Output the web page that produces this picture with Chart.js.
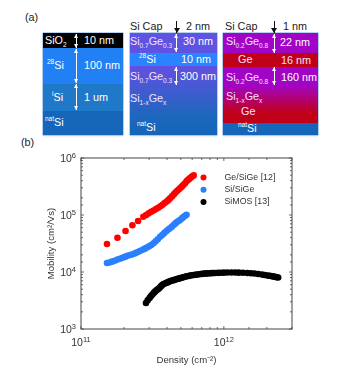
<!DOCTYPE html>
<html>
<head>
<meta charset="utf-8">
<script src="https://cdn.jsdelivr.net/npm/chart.js@4"></script>
<style>
  html, body { margin: 0; padding: 0; background: #fff; }
  body { width: 343px; height: 371px; position: relative; overflow: hidden; font-family: "Liberation Sans", sans-serif; color: #222; filter: blur(0.3px); }
  .stack { position: absolute; top: 33px; height: 102px; box-shadow: 0 0 0 0.5px #6ea2e0, 0 2px 2px #e6eefa; }
  .layer { position: absolute; left: 0; right: 0; }
  .t { position: absolute; white-space: nowrap; font-size: 10.8px; line-height: 12px; }
  .w { color: #fff; }
  .p { color: #f6e2fc; }
  sub, sup { font-size: 6.5px; line-height: 0; }
  .arrow { position: absolute; width: 1.5px; background: #fff; }
  .arrow::before, .arrow::after { content: ""; position: absolute; left: -2px; border-left: 2.75px solid transparent; border-right: 2.75px solid transparent; }
  .arrow::before { top: 0; border-bottom: 4px solid #fff; }
  .arrow::after { bottom: 0; border-top: 4px solid #fff; }
  .down { position: absolute; width: 1.2px; background: #111; }
  .down::after { content: ""; position: absolute; left: -2.4px; bottom: 0; border-left: 3px solid transparent; border-right: 3px solid transparent; border-top: 5px solid #111; }
  #chart-wrap { position: absolute; left: 0; top: 140px; width: 343px; height: 231px; }
</style>
</head>
<body>
<div class="t" style="left:25px;top:11px">(a)</div>
<div class="t" style="left:21px;top:136px">(b)</div>

<!-- first stack -->
<div class="stack" style="left:43px;width:80px">
  <div class="layer" style="top:0;height:15px;background:#000"></div>
  <div class="layer" style="top:15px;height:36px;background:#2280f5"></div>
  <div class="layer" style="top:51px;height:27px;background:#1f78c8"></div>
  <div class="layer" style="top:78px;height:24px;background:#1565b8"></div>
</div>
<div class="t w" style="left:45px;top:34px">SiO<sub>2</sub></div>
<div class="t w" style="left:84px;top:34px">10 nm</div>
<div class="t w" style="left:47px;top:59px"><sup>28</sup>Si</div>
<div class="t w" style="left:84px;top:59px">100 nm</div>
<div class="t w" style="left:52px;top:91px"><sup>i</sup>Si</div>
<div class="t w" style="left:84px;top:91px">1 um</div>
<div class="t w" style="left:45px;top:116px"><sup>nat</sup>Si</div>
<div class="arrow" style="left:75.5px;top:34px;height:14px"></div>
<div class="arrow" style="left:75.5px;top:49px;height:34px"></div>
<div class="arrow" style="left:75.5px;top:84px;height:26px"></div>

<!-- second stack -->
<div class="stack" style="left:130px;width:87px">
  <div class="layer" style="top:0;height:20px;background:#5f53e2"></div>
  <div class="layer" style="top:20px;height:13px;background:#2a84ff"></div>
  <div class="layer" style="top:33px;height:69px;background:linear-gradient(#6350e2,#1b68bc 75%,#1565b8)"></div>
</div>
<div class="t" style="left:130px;top:20px">Si Cap</div>
<div class="t" style="left:186px;top:20px">2 nm</div>
<div class="down" style="left:176px;top:21px;height:12px"></div>
<div class="t p" style="left:130px;top:35px">Si<sub>0.7</sub>Ge<sub>0.3</sub></div>
<div class="t w" style="left:183px;top:35px">30 nm</div>
<div class="t w" style="left:139px;top:53px"><sup>28</sup>Si</div>
<div class="t w" style="left:181px;top:53px">10 nm</div>
<div class="t p" style="left:130px;top:70px">Si<sub>0.7</sub>Ge<sub>0.3</sub></div>
<div class="t w" style="left:180px;top:70px">300 nm</div>
<div class="t p" style="left:130px;top:92px">Si<sub>1-x</sub>Ge<sub>x</sub></div>
<div class="t w" style="left:137px;top:121px"><sup>nat</sup>Si</div>
<div class="arrow" style="left:175.5px;top:34px;height:18px"></div>
<div class="arrow" style="left:175.5px;top:67px;height:18px"></div>

<!-- third stack -->
<div class="stack" style="left:223px;width:95px">
  <div class="layer" style="top:0;height:20px;background:#a204c6"></div>
  <div class="layer" style="top:20px;height:14px;background:#c00018"></div>
  <div class="layer" style="top:34px;height:46px;background:linear-gradient(#a204c6,#a204c6 40%,#c00018)"></div>
  <div class="layer" style="top:79px;height:11px;background:#c00018"></div>
  <div class="layer" style="top:90px;height:12px;background:#1565b8"></div>
</div>
<div class="t" style="left:225px;top:20px">Si Cap</div>
<div class="t" style="left:283px;top:20px">1 nm</div>
<div class="down" style="left:273.5px;top:21px;height:12px"></div>
<div class="t p" style="left:226px;top:35px">Si<sub>0.2</sub>Ge<sub>0.8</sub></div>
<div class="t w" style="left:280px;top:36px">22 nm</div>
<div class="t p" style="left:238px;top:53px">Ge</div>
<div class="t p" style="left:281px;top:54px">16 nm</div>
<div class="t p" style="left:226px;top:71px">Si<sub>0.2</sub>Ge<sub>0.8</sub></div>
<div class="t w" style="left:281px;top:71px">160 nm</div>
<div class="t p" style="left:226px;top:90px">Si<sub>1-x</sub>Ge<sub>x</sub></div>
<div class="t p" style="left:241px;top:105px">Ge</div>
<div class="t w" style="left:238px;top:122px"><sup>nat</sup>Si</div>
<div class="arrow" style="left:273.5px;top:34px;height:19px"></div>
<div class="arrow" style="left:273.5px;top:67px;height:18px"></div>

<div id="chart-wrap"><canvas id="mobility-chart" width="343" height="231"></canvas></div>

<script>
const geDensity = [1.52e11,1.80e11,2.05e11,2.29e11,2.51e11,2.73e11,2.86e11,2.98e11,3.10e11,3.22e11,3.35e11,3.47e11,3.60e11,3.72e11,3.85e11,3.98e11,4.10e11,4.22e11,4.35e11,4.48e11,4.60e11,4.72e11,4.85e11,4.98e11,5.10e11,5.22e11,5.35e11,5.48e11,5.60e11,5.72e11,5.85e11,5.98e11,6.15e11];
const geMobility = [3.1e4,4.0e4,5.24e4,6.6e4,7.85e4,9.3e4,1.0e5,1.07e5,1.14e5,1.2e5,1.27e5,1.34e5,1.42e5,1.51e5,1.62e5,1.73e5,1.84e5,1.98e5,2.14e5,2.32e5,2.5e5,2.66e5,2.82e5,3.0e5,3.18e5,3.38e5,3.6e5,3.9e5,4.1e5,4.3e5,4.5e5,4.72e5,4.95e5];

const siDensity = [1.52e11,1.58e11,1.65e11,1.72e11,1.80e11,1.87e11,1.95e11,2.03e11,2.11e11,2.21e11,2.30e11,2.40e11,2.50e11,2.60e11,2.72e11,2.80e11,2.89e11,3.0e11,3.1e11,3.22e11,3.33e11,3.45e11,3.58e11,3.7e11,3.82e11,3.95e11,4.08e11,4.2e11,4.33e11,4.47e11,4.6e11,4.72e11,4.85e11,4.96e11,5.1e11,5.22e11,5.35e11,5.48e11];
const siMobility = [1.44e4,1.47e4,1.52e4,1.58e4,1.65e4,1.71e4,1.77e4,1.84e4,1.92e4,1.99e4,2.05e4,2.14e4,2.24e4,2.35e4,2.47e4,2.57e4,2.68e4,2.82e4,2.97e4,3.2e4,3.45e4,3.75e4,4.15e4,4.45e4,4.8e4,5.2e4,5.55e4,5.85e4,6.25e4,6.75e4,7.2e4,7.6e4,7.95e4,8.27e4,8.8e4,9.25e4,9.7e4,1.01e5];

const mosDensity = [2.85e11,2.93e11,3.02e11,3.08e11,3.15e11,3.23e11,3.31e11,3.4e11,3.5e11,3.58e11,3.65e11,3.72e11,3.79e11,3.9e11,4.0e11,4.1e11,4.2e11,4.32e11,4.45e11,4.58e11,4.7e11,4.82e11,4.95e11,5.08e11,5.2e11,5.35e11,5.5e11,5.65e11,5.8e11,5.98e11,6.15e11,6.32e11,6.5e11,6.7e11,6.9e11,7.1e11,7.3e11,7.5e11,7.7e11,7.95e11,8.2e11,8.45e11,8.7e11,9.1e11,9.5e11,1.0e12,1.06e12,1.13e12,1.2e12,1.27e12,1.36e12,1.46e12,1.55e12,1.64e12,1.74e12,1.85e12,1.93e12,2.02e12,2.08e12,2.14e12,2.2e12,2.27e12,2.33e12,2.4e12];
const mosMobility = [2.86e3,3.2e3,3.5e3,3.75e3,4.0e3,4.3e3,4.57e3,4.85e3,5.1e3,5.4e3,5.7e3,5.95e3,6.16e3,6.35e3,6.5e3,6.7e3,6.9e3,7.05e3,7.2e3,7.35e3,7.5e3,7.65e3,7.8e3,7.95e3,8.1e3,8.25e3,8.4e3,8.52e3,8.65e3,8.75e3,8.86e3,8.95e3,9.05e3,9.12e3,9.2e3,9.28e3,9.35e3,9.4e3,9.45e3,9.5e3,9.55e3,9.6e3,9.62e3,9.66e3,9.7e3,9.75e3,9.78e3,9.8e3,9.8e3,9.75e3,9.7e3,9.6e3,9.5e3,9.4e3,9.2e3,9.0e3,8.85e3,8.7e3,8.6e3,8.5e3,8.38e3,8.25e3,8.12e3,8.0e3];

const seriesNames = ['Ge/SiGe [12]', 'Si/SiGe', 'SiMOS [13]'];
const seriesColors = ['#ff0000', '#2a7fff', '#000000'];
const xTickValues = [1e11, 1e12];
const yTickValues = [1e3, 1e4, 1e5, 1e6];

function toPoints(xs, ys) {
    return xs.map((x, i) => ({ x: x, y: ys[i] }));
}

function isDecade(value) {
    const e = Math.log10(value);
    return Math.abs(e - Math.round(e)) < 1e-6;
}

// frame plus inward ticks on all four sides, chart.js only draws them outward
const insideTicks = {
    id: 'insideTicks',
    afterDatasetsDraw(chart) {
        const { ctx, chartArea: a, scales } = chart;
        ctx.save();
        ctx.strokeStyle = '#444';
        ctx.lineWidth = 1;
        ctx.strokeRect(a.left, a.top, a.right - a.left, a.bottom - a.top);
        ctx.lineWidth = 0.8;
        ctx.beginPath();
        scales.x.ticks.forEach(t => {
            const px = scales.x.getPixelForValue(t.value);
            const len = isDecade(t.value) ? 3 : 2;
            ctx.moveTo(px, a.bottom); ctx.lineTo(px, a.bottom - len);
            ctx.moveTo(px, a.top); ctx.lineTo(px, a.top + len);
        });
        scales.y.ticks.forEach(t => {
            const py = scales.y.getPixelForValue(t.value);
            const len = isDecade(t.value) ? 3 : 2;
            ctx.moveTo(a.left, py); ctx.lineTo(a.left + len, py);
            ctx.moveTo(a.right, py); ctx.lineTo(a.right - len, py);
        });
        ctx.stroke();
        ctx.restore();
    }
};

// "10" with a raised exponent, the tick callback can't do two sizes
function drawPower(ctx, value, x, y, align) {
    const exp = String(Math.round(Math.log10(value)));
    ctx.font = '10.5px "Liberation Sans"';
    const baseW = ctx.measureText('10').width;
    ctx.font = '7.5px "Liberation Sans"';
    const expW = ctx.measureText(exp).width;
    const left = align === 'right' ? x - baseW - expW : x - (baseW + expW) / 2;
    ctx.font = '10.5px "Liberation Sans"';
    ctx.fillText('10', left, y);
    ctx.font = '7.5px "Liberation Sans"';
    ctx.fillText(exp, left + baseW, y - 4);
}

const powerLabels = {
    id: 'powerLabels',
    afterDraw(chart) {
        const { ctx, chartArea: a, scales } = chart;
        ctx.save();
        ctx.fillStyle = '#333';
        ctx.textBaseline = 'alphabetic';
        xTickValues.forEach(v => drawPower(ctx, v, scales.x.getPixelForValue(v), a.bottom + 17, 'center'));
        yTickValues.forEach(v => drawPower(ctx, v, a.left - 5, scales.y.getPixelForValue(v) + 4, 'right'));
        ctx.restore();
    }
};

// legend sits inside the plot, next to the end of the curves
const insideLegend = {
    id: 'insideLegend',
    afterDatasetsDraw(chart) {
        const { ctx, chartArea: a } = chart;
        ctx.save();
        ctx.font = '8.8px "Liberation Sans"';
        ctx.textBaseline = 'middle';
        seriesNames.forEach((name, i) => {
            const y = a.top + 19.5 + i * 12.2;
            ctx.fillStyle = seriesColors[i];
            ctx.beginPath();
            ctx.arc(a.left + 122.5, y, 3, 0, Math.PI * 2);
            ctx.fill();
            ctx.fillStyle = '#333';
            ctx.fillText(name, a.left + 143.5, y);
        });
        ctx.restore();
    }
};

const densitySets = [geDensity, siDensity, mosDensity];
const mobilitySets = [geMobility, siMobility, mosMobility];

new Chart(document.getElementById('mobility-chart'), {
    type: 'scatter',
    data: {
        datasets: seriesNames.map((name, i) => ({
            label: name,
            data: toPoints(densitySets[i], mobilitySets[i]),
            backgroundColor: seriesColors[i],
            borderWidth: 0,
            pointRadius: 3.3
        }))
    },
    plugins: [insideTicks, powerLabels, insideLegend],
    options: {
        responsive: false,
        animation: false,
        layout: { padding: { left: 0, right: 51, top: 18, bottom: 0 } },
        plugins: { legend: { display: false }, tooltip: { enabled: false } },
        scales: {
            x: {
                type: 'logarithmic',
                min: 1e11,
                max: 3e12,
                afterFit(s) { s.height = 42; },
                grid: { display: false, drawTicks: false },
                border: { display: false },
                ticks: { autoSkip: false, maxRotation: 0, callback: () => '' },
                title: {
                    display: true,
                    text: 'Density (cm⁻²)',
                    color: '#333',
                    font: { family: 'Liberation Sans', size: 9.6 },
                    padding: { top: 0, bottom: 5 }
                }
            },
            y: {
                type: 'logarithmic',
                min: 1e3,
                max: 1e6,
                afterFit(s) { s.width = 81; },
                grid: { display: false, drawTicks: false },
                border: { display: false },
                ticks: { autoSkip: false, callback: () => '' },
                title: {
                    display: true,
                    text: 'Mobility (cm²/Vs)',
                    color: '#333',
                    font: { family: 'Liberation Sans', size: 9.6 },
                    padding: { top: 46, bottom: 0 }
                }
            }
        }
    }
});
</script>
</body>
</html>
